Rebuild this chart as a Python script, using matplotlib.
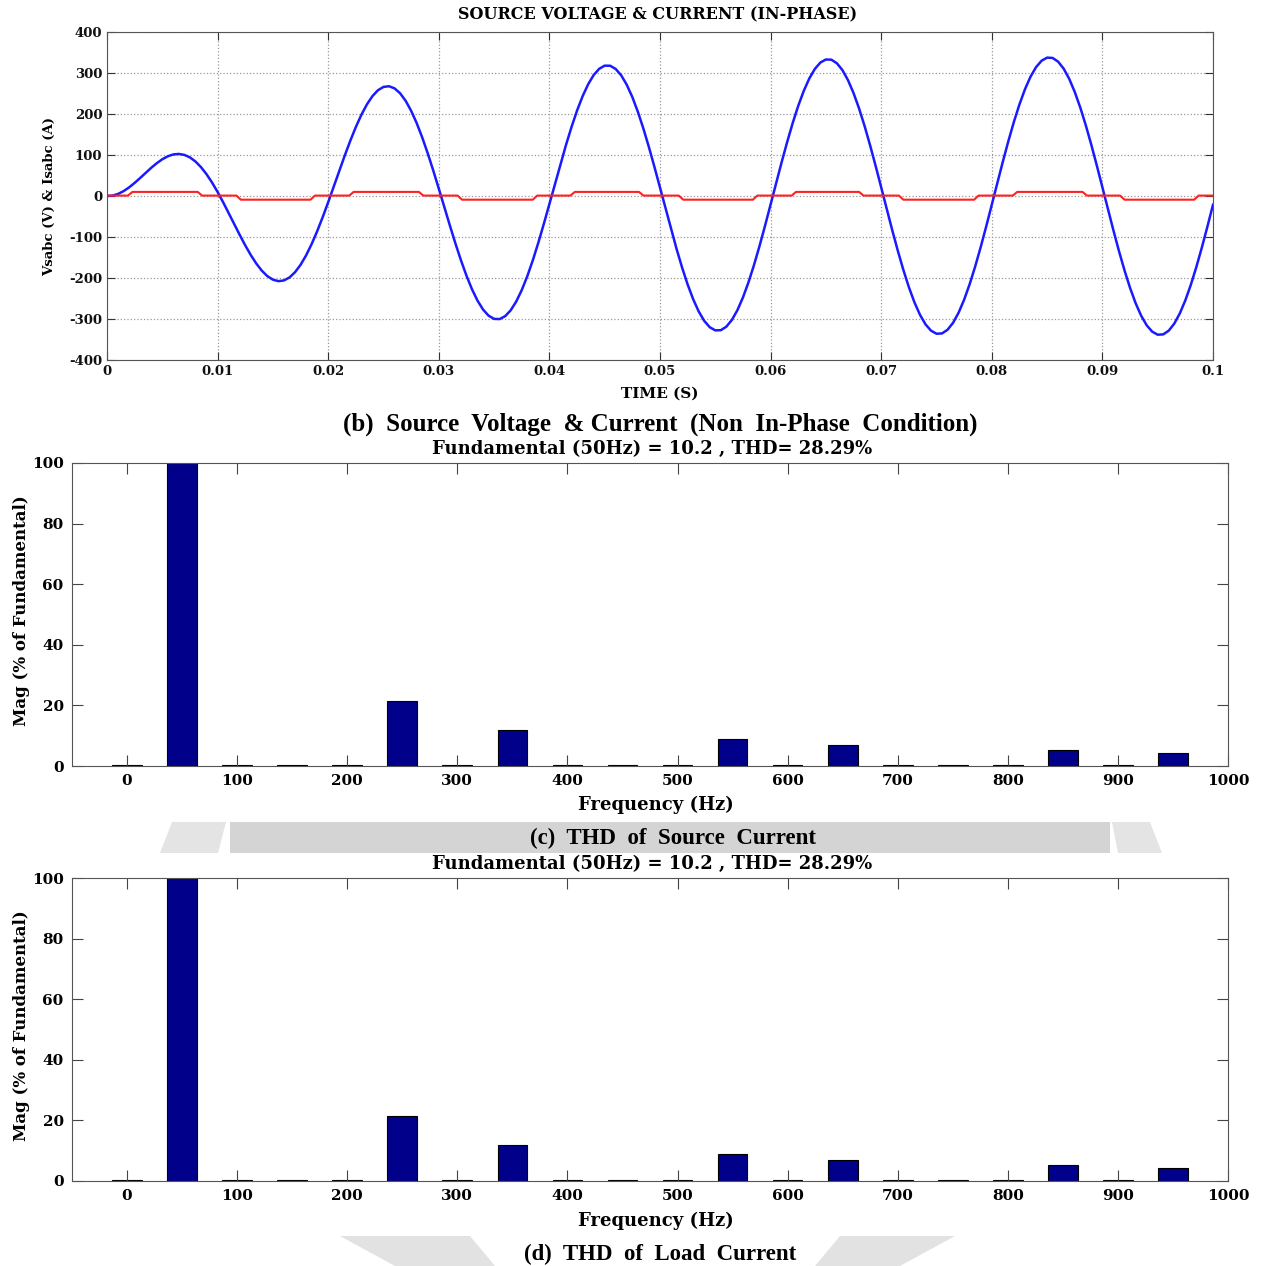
import matplotlib.pyplot as plt
import numpy as np
from matplotlib.patches import Polygon

# ---- data ----
# source voltage (V), sampled every 0.5 ms from 0 to 0.1 s
volt = [0.0, 1.0, 5.0, 11.9, 21.0, 32.0, 44.0, 56.5, 68.8, 80.0, 89.6, 96.9, 101.4, 102.6, 100.2, 94.1, 84.1, 70.3, 53.1, 32.8,
        9.8, -15.2, -41.5, -68.3, -94.9, -120.4, -144.0, -164.8, -182.2, -195.5, -204.1, -207.7, -205.9, -198.7, -185.9, -167.9, -144.9, -117.4, -86.1, -51.7,
        -15.1, 22.9, 61.2, 98.9, 134.9, 168.3, 198.1, 223.4, 243.6, 258.0, 266.1, 267.7, 262.5, 250.6, 232.3, 207.8, 177.8, 142.9, 104.0, 62.0,
        18.0, -27.1, -71.9, -115.5, -156.6, -194.2, -227.4, -255.2, -276.9, -291.8, -299.7, -300.2, -293.1, -278.8, -257.4, -229.5, -195.7, -156.8, -113.7, -67.6,
        -19.5, 29.3, 77.7, 124.4, 168.3, 208.3, 243.2, 272.3, 294.9, 310.2, 317.9, 317.7, 309.7, 294.0, 271.0, 241.2, 205.3, 164.2, 119.0, 70.6,
        20.4, -30.5, -80.9, -129.3, -174.7, -215.9, -251.8, -281.6, -304.6, -320.1, -327.7, -327.3, -318.7, -302.3, -278.4, -247.5, -210.5, -168.3, -121.8, -72.2,
        -20.8, 31.2, 82.6, 131.9, 178.1, 220.0, 256.5, 286.7, 309.9, 325.5, 333.0, 332.4, 323.6, 306.8, 282.4, 251.0, 213.4, 170.5, 123.3, 73.1,
        21.1, -31.6, -83.5, -133.3, -180.0, -222.2, -259.0, -289.4, -312.8, -328.4, -335.9, -335.2, -326.2, -309.2, -284.5, -252.8, -214.9, -171.7, -124.2, -73.6,
        -21.2, 31.8, 84.0, 134.1, 181.0, 223.4, 260.4, 290.9, 314.3, 329.9, 337.5, 336.7, 327.6, 310.5, 285.7, 253.8, 215.7, 172.3, 124.6, 73.8,
        21.3, -31.9, -84.2, -134.5, -181.5, -224.1, -261.1, -291.7, -315.2, -330.8, -338.3, -337.5, -328.4, -311.2, -286.3, -254.4, -216.2, -172.6, -124.9, -74.0,
        -21.3]
t_volt = np.linspace(0, 0.1, len(volt))

# source current (A), corner points of the stepped wave
cur_t = [0.0, 0.0019, 0.0023, 0.0082, 0.0086, 0.0117, 0.0121, 0.0184, 0.0188,
         0.0219, 0.0223, 0.0282, 0.0286, 0.0317, 0.0321, 0.0385, 0.0389,
         0.0419, 0.0423, 0.0481, 0.0485, 0.0517, 0.0521, 0.0584, 0.0588,
         0.0619, 0.0623, 0.0680, 0.0684, 0.0716, 0.0720, 0.0784, 0.0788,
         0.0819, 0.0823, 0.0882, 0.0886, 0.0916, 0.0920, 0.0983, 0.0987, 0.1]
cur_v = [1, 1, 10, 10, 1, 1, -9, -9, 1,
         1, 10, 10, 1, 1, -9, -9, 1,
         1, 10, 10, 1, 1, -9, -9, 1,
         1, 10, 10, 1, 1, -9, -9, 1,
         1, 10, 10, 1, 1, -9, -9, 1, 1]

# harmonic spectra (% of fundamental)
freqs = [0, 50, 100, 150, 200, 250, 300, 350, 400, 450,
         500, 550, 600, 650, 700, 750, 800, 850, 900, 950]
src_mag = [0.4, 100, 0.4, 0.3, 0.4, 21.6, 0.4, 11.8, 0.4, 0.3,
           0.4, 8.8, 0.4, 6.8, 0.4, 0.3, 0.4, 5.2, 0.4, 4.4]
load_mag = [0.4, 100, 0.4, 0.3, 0.4, 21.6, 0.4, 11.8, 0.4, 0.3,
            0.4, 8.8, 0.4, 6.8, 0.4, 0.3, 0.4, 5.2, 0.4, 4.4]
fft_title = 'Fundamental (50Hz) = 10.2 , THD= 28.29%'

W, H = 1262, 1266
fig = plt.figure(figsize=(W / 100, H / 100), dpi=100)

def fx(px):
    return px / W

def fy(py):
    return 1 - py / H

lab = dict(family='DejaVu Serif', weight='bold')
cap = dict(family='Liberation Serif', weight='bold')

# watermark patches behind captions (c) and (d)
for pts, col in [([(230, 822), (1110, 822), (1110, 853), (230, 853)], '#d4d4d4'),
                 ([(172, 822), (226, 822), (218, 853), (160, 853)], '#e4e4e4'),
                 ([(1112, 822), (1150, 822), (1162, 853), (1118, 853)], '#e4e4e4'),
                 ([(340, 1236), (470, 1236), (495, 1266), (395, 1266)], '#e2e2e2'),
                 ([(840, 1236), (955, 1236), (900, 1266), (815, 1266)], '#e2e2e2')]:
    fig.patches.append(Polygon([(fx(a), fy(b)) for a, b in pts], closed=True,
                               transform=fig.transFigure, facecolor=col,
                               edgecolor='none', zorder=0))

# ---- (b) time waveform ----
ax1 = fig.add_axes([fx(107), fy(360), fx(1106), 328 / H])
ax1.plot(t_volt, volt, color='#1a1aff', lw=1.8)
ax1.plot(cur_t, cur_v, color='#ff2020', lw=1.5)
ax1.set_xlim(0, 0.1)
ax1.set_ylim(-400, 400)
ax1.set_xticks(np.arange(0, 0.101, 0.01))
ax1.set_xticklabels(['0', '0.01', '0.02', '0.03', '0.04', '0.05',
                     '0.06', '0.07', '0.08', '0.09', '0.1'], **lab)
ax1.set_yticks(np.arange(-400, 401, 100))
ax1.set_yticklabels([str(v) for v in range(-400, 401, 100)], **lab)
ax1.tick_params(direction='in', top=True, right=True, length=6,
                labelsize=9.5, colors='#333333', labelcolor='#111111')
ax1.grid(True, ls=':', color='#999999', lw=0.9)
for s in ax1.spines.values():
    s.set_color('#555555')
fig.text(fx(658), fy(15), 'SOURCE VOLTAGE & CURRENT (IN-PHASE)',
         ha='center', va='center', fontsize=11.5, **lab)
fig.text(fx(660), fy(394), 'TIME (S)', ha='center', va='center', fontsize=11, **lab)
fig.text(fx(50), fy(197), 'Vsabc (V) & Isabc (A)', ha='center', va='center',
         rotation=90, fontsize=9.5, **lab)
fig.text(fx(660), fy(424), '(b)  Source  Voltage  & Current  (Non  In-Phase  Condition)',
         ha='center', va='center', fontsize=18, **cap)

# ---- (c) and (d) spectra ----
def spectrum(top_px, mags, title_py, xlab_py, caption, cap_px, cap_py):
    ax = fig.add_axes([fx(72), fy(top_px + 303), fx(1156), 303 / H])
    ax.bar(freqs, mags, width=27, color='#00008a', edgecolor='black', lw=0.8)
    ax.set_xlim(-50, 1000)
    ax.set_ylim(0, 100)
    ax.set_xticks(range(0, 1001, 100))
    ax.set_xticklabels([str(v) for v in range(0, 1001, 100)], **lab)
    ax.set_yticks(range(0, 101, 20))
    ax.set_yticklabels([str(v) for v in range(0, 101, 20)], **lab)
    ax.tick_params(direction='in', top=True, right=True, length=8,
                   labelsize=11, colors='#444444', labelcolor='black', pad=6)
    for s in ax.spines.values():
        s.set_color('#555555')
    fig.text(fx(652), fy(title_py), fft_title, ha='center', va='center',
             fontsize=13, **lab)
    fig.text(fx(656), fy(xlab_py), 'Frequency (Hz)', ha='center', va='center',
             fontsize=13, **lab)
    fig.text(fx(22), fy(top_px + 148), 'Mag (% of Fundamental)', ha='center',
             va='center', rotation=90, fontsize=12, **lab)
    fig.text(fx(cap_px), fy(cap_py), caption, ha='center', va='center',
             fontsize=16.5, **cap)
    return ax

spectrum(463, src_mag, 449, 805, '(c)  THD  of  Source  Current', 673, 838)
spectrum(878, load_mag, 864, 1221, '(d)  THD  of  Load  Current', 660, 1254)

fig.savefig('out.png', dpi=100)
